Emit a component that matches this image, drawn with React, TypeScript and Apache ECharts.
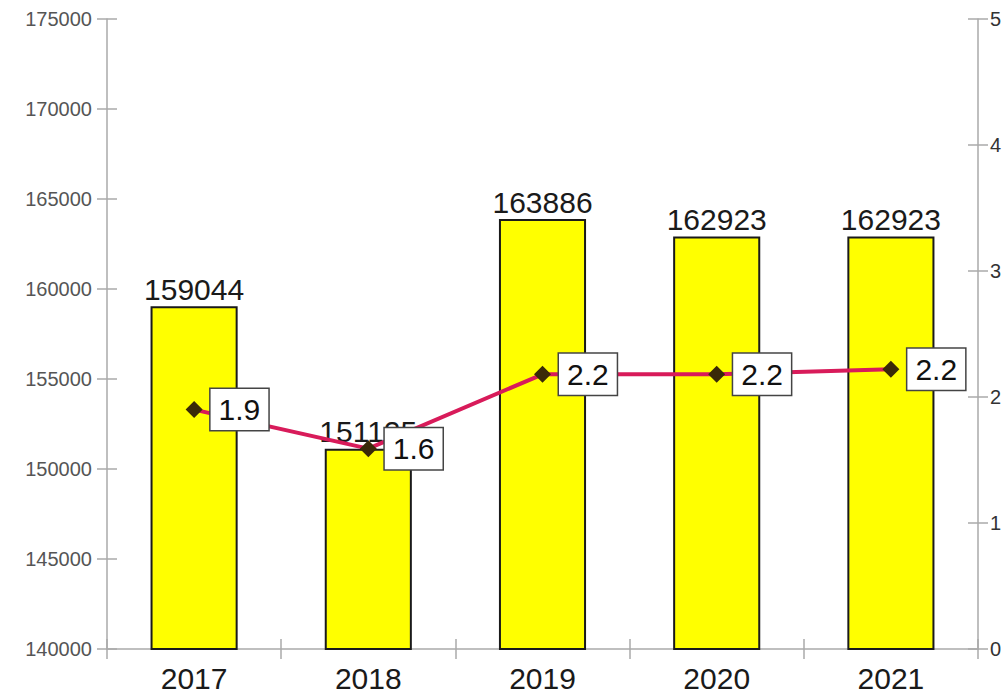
import React, { useEffect, useRef } from "react";
import * as echarts from "echarts";

const categories = ["2017", "2018", "2019", "2020", "2021"];
const barValues = [159044, 151125, 163886, 162923, 162923];
const lineValues = [1.9, 1.59, 2.18, 2.18, 2.22];

const FONT = "Arial, 'Liberation Sans', sans-serif";

export default function App() {
  const ref = useRef<HTMLDivElement>(null);
  useEffect(() => {
    document.body.style.margin = "0";
    const chart = echarts.init(ref.current!, null, { renderer: "svg" });
    const axisLineStyle = { color: "#aaaaaa", width: 1.5 };
    chart.setOption({
      animation: false,
      textStyle: { fontFamily: FONT },
      grid: { left: 107, right: 29, top: 19, bottom: 43 },
      xAxis: [
        {
          type: "category",
          data: categories,
          position: "bottom",
          axisLine: { show: true, lineStyle: axisLineStyle },
          axisTick: { show: true, inside: false, length: 10, lineStyle: axisLineStyle },
          axisLabel: { fontSize: 30, color: "#1a1a1a", margin: 14, fontFamily: FONT },
          splitLine: { show: false },
        },
        {
          type: "category",
          data: categories,
          position: "bottom",
          axisLine: { show: false },
          axisTick: { show: true, inside: true, length: 10, lineStyle: axisLineStyle },
          axisLabel: { show: false },
          splitLine: { show: false },
        },
      ],
      yAxis: [
        {
          type: "value",
          min: 140000,
          max: 175000,
          interval: 5000,
          position: "left",
          axisLine: { show: true, lineStyle: axisLineStyle },
          axisTick: { show: true, inside: false, length: 10, lineStyle: axisLineStyle },
          axisLabel: {
            fontSize: 20,
            color: "#555555",
            margin: 15,
            fontFamily: FONT,
            formatter: (v: number) => String(v),
          },
          splitLine: { show: false },
        },
        {
          type: "value",
          min: 0,
          max: 5,
          interval: 1,
          position: "right",
          axisLine: { show: true, lineStyle: axisLineStyle },
          axisTick: { show: true, inside: false, length: 10, lineStyle: axisLineStyle },
          axisLabel: { fontSize: 20, color: "#333333", margin: 12, fontFamily: FONT },
          splitLine: { show: false },
        },
        {
          type: "value",
          min: 140000,
          max: 175000,
          interval: 5000,
          position: "left",
          axisLine: { show: false },
          axisTick: { show: true, inside: true, length: 10, lineStyle: axisLineStyle },
          axisLabel: { show: false },
          splitLine: { show: false },
        },
        {
          type: "value",
          min: 0,
          max: 5,
          interval: 1,
          position: "right",
          axisLine: { show: false },
          axisTick: { show: true, inside: true, length: 10, lineStyle: axisLineStyle },
          axisLabel: { show: false },
          splitLine: { show: false },
        },
      ],
      series: [
        {
          type: "bar",
          xAxisIndex: 0,
          yAxisIndex: 0,
          data: barValues,
          barWidth: "50%",
          itemStyle: { color: "#ffff00", borderColor: "#1a1a1a", borderWidth: 2 },
          label: {
            show: true,
            position: "top",
            distance: 2,
            fontSize: 30,
            color: "#1a1a1a",
            fontFamily: FONT,
          },
          z: 2,
        },
        {
          type: "line",
          xAxisIndex: 0,
          yAxisIndex: 1,
          data: lineValues,
          symbol: "diamond",
          symbolSize: 17,
          itemStyle: { color: "#3a2a08" },
          lineStyle: { color: "#d81b5a", width: 4 },
          label: {
            show: true,
            position: "right",
            distance: 8,
            fontSize: 30,
            color: "#111111",
            backgroundColor: "#ffffff",
            borderColor: "#444444",
            borderWidth: 1.5,
            padding: [6, 8, 5, 8],
            fontFamily: FONT,
            formatter: (p: any) => Number(p.value).toFixed(1),
          },
          z: 5,
        },
      ],
    });
    return () => chart.dispose();
  }, []);
  return <div ref={ref} style={{ width: 1007, height: 693 }} />;
}
